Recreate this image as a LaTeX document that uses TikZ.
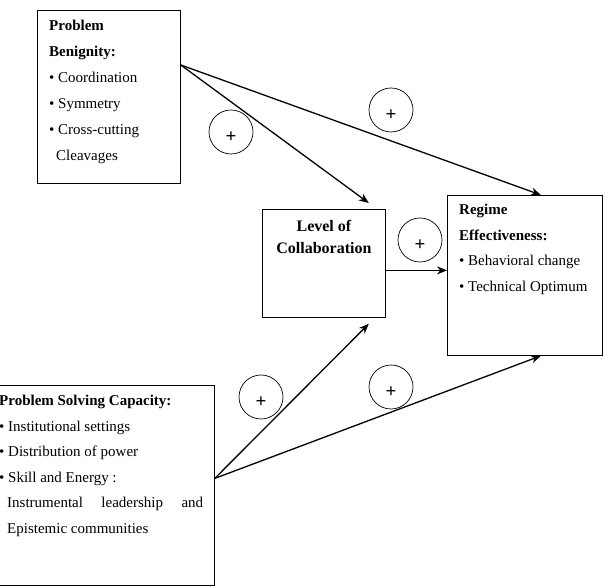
\documentclass[tikz,border=0pt]{standalone}
\usepackage{fontspec}
\setmainfont{Liberation Serif}
\usetikzlibrary{arrows.meta}

\begin{document}
\begin{tikzpicture}[x=1pt,y=1pt,
		box/.style={draw, line width=0.8pt, anchor=north west, inner sep=0pt},
		txt/.style={anchor=north west, inner sep=0pt, align=left, font=\fontsize{15}{25.5}\selectfont},
		sign/.style={draw, circle, line width=0.7pt, minimum size=44pt, inner sep=0pt, font=\fontsize{19}{19}\selectfont\bfseries},
		arr/.style={line width=1.3pt, -{Stealth[length=10pt,width=8pt]}}]
		\useasboundingbox (0,0) rectangle (605,588);
		\clip (0,0) rectangle (605,588);

		% Boxes
		\node[box, minimum width=143pt, minimum height=173pt] (benign) at (37,578) {};
		\node[box, minimum width=123pt, minimum height=108pt] (collab) at (262,379) {};
		\node[box, minimum width=155pt, minimum height=160pt] (regime) at (447,393) {};
		\node[box, minimum width=226pt, minimum height=200pt] (capacity) at (-12,203) {};

		% Texts
		\node[txt, font=\fontsize{15}{26}\selectfont] (benigntxt) at ([xshift=12pt,yshift=-9.5pt]benign.north west)
			{\textbf{Problem}\\ \textbf{Benignity:}\\ \textbullet\ Coordination\\ \textbullet\ Symmetry\\ \textbullet\ Cross-cutting\\ \hspace*{7pt}Cleavages};
		\node[anchor=north, inner sep=0pt, align=center, font=\fontsize{16}{22}\selectfont\bfseries] (collabtxt) at ([yshift=-11pt]collab.north)
			{Level of\\ Collaboration};
		\node[txt] (regimetxt) at ([xshift=12pt,yshift=-9pt]regime.north west)
			{\textbf{Regime}\\ \textbf{Effectiveness:}\\ \textbullet\ Behavioral change\\ \textbullet\ Technical Optimum};
		\node[txt, text width=204pt, align=justify] (capacitytxt) at ([xshift=11pt,yshift=-10pt]capacity.north west)
			{\textbf{Problem Solving Capacity:}\par
			\textbullet\ Institutional settings\par
			\textbullet\ Distribution of power\par
			\textbullet\ Skill and Energy :\par
			{\leftskip=8pt\tolerance=10000\hyphenpenalty=10000 Instrumental leadership and Epistemic communities\par}};

		% Signs
		\foreach \x/\y/\n in {231/456/pa, 391/478/pb, 420/348/pc, 261/191/pd, 391/201/pe}
			\node[sign] (\n) at (\x,\y) {\raisebox{-11pt}[0pt][0pt]{+}};

		% Arrows
		\coordinate (mid) at ([yshift=-7pt]collab.east);
		\draw[arr] ([yshift=-55pt]benign.north east) -- ([xshift=-17pt,yshift=6pt]collab.north east);
		\draw[arr] ([yshift=-55pt]benign.north east) -- ([xshift=16pt]regime.north);
		\draw[arr] (mid) -- (mid -| regime.west);
		\draw[arr] ([yshift=7pt]capacity.east) -- ([xshift=-17pt,yshift=-6pt]collab.south east);
		\draw[arr] ([yshift=7pt]capacity.east) -- ([xshift=16pt]regime.south);
	\end{tikzpicture}
\end{document}
